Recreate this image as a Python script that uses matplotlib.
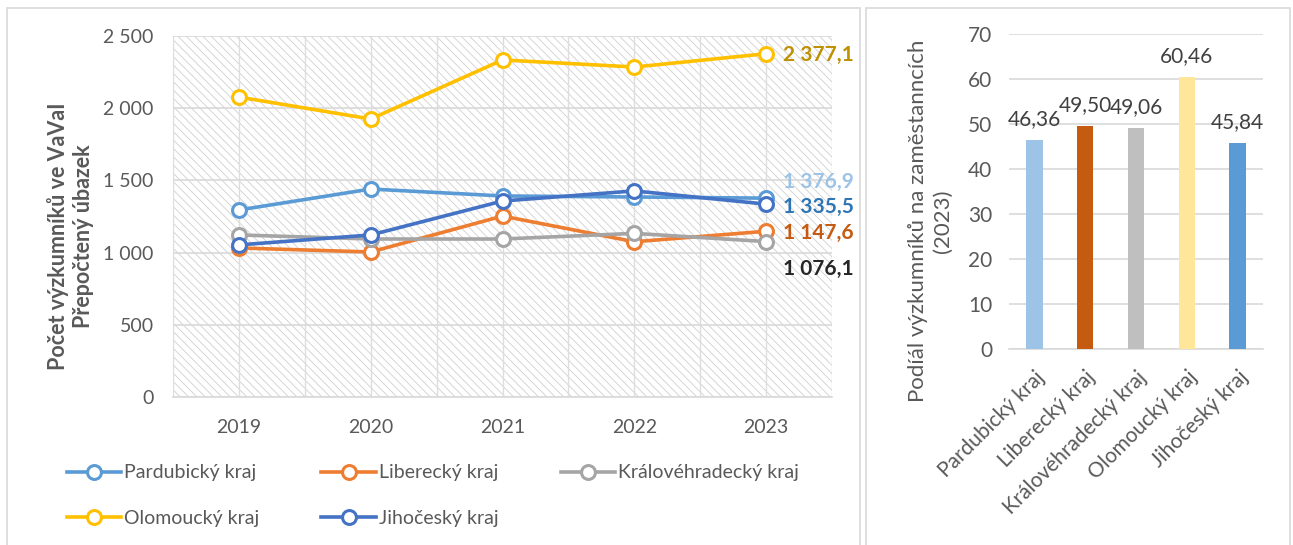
import numpy as np
import matplotlib.pyplot as plt
from matplotlib.patches import Rectangle
from matplotlib.ticker import FuncFormatter

plt.rcParams['font.family'] = ['Lato', 'DejaVu Sans']
plt.rcParams['hatch.linewidth'] = 0.6

# data
roky = ['2019', '2020', '2021', '2022', '2023']
kraje = ['Pardubický kraj', 'Liberecký kraj', 'Královéhradecký kraj',
         'Olomoucký kraj', 'Jihočeský kraj']
pardubicky = [1295, 1440, 1392, 1385, 1376.9]
liberecky = [1032, 1004, 1253, 1075, 1147.6]
kralovehradecky = [1122, 1094, 1094, 1133, 1076.1]
olomoucky = [2077, 1925, 2334, 2285, 2377.1]
jihocesky = [1053, 1122, 1357, 1427, 1335.5]
podil_2023 = [46.36, 49.50, 49.06, 60.46, 45.84]

barvy_car = ['#5B9BD5', '#ED7D31', '#A5A5A5', '#FFC000', '#4472C4']
barvy_popisku = ['#9DC3E6', '#C55A11', '#262626', '#BF9000', '#2E75B6']
# posun popisku posledni hodnoty (body)
posuny = [(12, 12), (12, -1), (12, -20), (12, -1), (12, -2)]
barvy_sloupcu = ['#9DC3E6', '#C55A11', '#BFBFBF', '#FFE699', '#5B9BD5']

seda = '#595959'

fig = plt.figure(figsize=(12.93, 5.45), dpi=100)

# ramecky panelu
fig.patches.append(Rectangle((0.0054, -0.01), 0.6596, 0.995, transform=fig.transFigure,
                             facecolor='none', edgecolor='#D9D9D9', lw=1.2))
fig.patches.append(Rectangle((0.6698, -0.01), 0.3279, 0.995, transform=fig.transFigure,
                             facecolor='none', edgecolor='#D9D9D9', lw=1.2))

# ---- levy graf ----
ax = fig.add_axes([0.1338, 0.2716, 0.5097, 0.6624])
ax.set_facecolor('white')
ax.add_patch(Rectangle((0, 0), 1, 1, transform=ax.transAxes, facecolor='white',
                       edgecolor='#CFCFCF', hatch='\\\\\\\\', lw=0, zorder=0))
x = np.arange(len(roky))
rady = [pardubicky, liberecky, kralovehradecky, olomoucky, jihocesky]
cary = []
for i, (nazev, hodnoty) in enumerate(zip(kraje, rady)):
    c, = ax.plot(x, hodnoty, color=barvy_car[i], lw=2.6, marker='o', ms=10,
                 mfc='white', mec=barvy_car[i], mew=2.2, label=nazev, zorder=3 + i)
    cary.append(c)
    posl = hodnoty[-1]
    txt = f'{posl:,.1f}'.replace(',', ' ').replace('.', ',')
    ax.annotate(txt, (x[-1], posl), xytext=posuny[i], textcoords='offset points',
                ha='left', va='center', fontsize=15, fontweight='bold',
                color=barvy_popisku[i], zorder=10, annotation_clip=False)

ax.set_xlim(-0.5, 4.5)
ax.set_ylim(0, 2500)
ax.set_yticks(np.arange(0, 2501, 500))
ax.yaxis.set_major_formatter(FuncFormatter(lambda v, p: f'{int(v):,}'.replace(',', ' ')))
ax.set_xticks(x)
ax.set_xticklabels(roky)
ax.set_xticks(np.arange(-0.5, 4.6, 1), minor=True)
ax.grid(axis='y', color='#D9D9D9', lw=1.2, zorder=1)
ax.grid(axis='x', which='both', color='#DDDDDD', lw=1.0, zorder=1)
ax.tick_params(axis='both', which='both', length=0, colors=seda, labelsize=14)
ax.tick_params(axis='y', pad=14)
ax.tick_params(axis='x', pad=16)
for s in ['top', 'right', 'left']:
    ax.spines[s].set_visible(False)
ax.spines['bottom'].set_color('#D9D9D9')
ax.spines['bottom'].set_linewidth(1.2)
ax.set_ylabel('Počet výzkumníků ve VaVaI\nPřepočtený úbazek', fontsize=15.5,
              fontweight='bold', color=seda, linespacing=1.25)
ax.yaxis.set_label_coords(-0.12, 0.445)

# legenda po radcich: P, L, K / O, J
poradi = [0, 3, 1, 4, 2]
fig.legend([cary[k] for k in poradi], [kraje[k] for k in poradi],
           loc='upper left', bbox_to_anchor=(0.038, 0.18), ncol=3, frameon=False,
           fontsize=14, handlelength=2.8, handletextpad=0.15, columnspacing=3.2,
           labelspacing=1.45, numpoints=1, labelcolor=seda,
           bbox_transform=fig.transFigure)

# ---- pravy graf ----
bx = fig.add_axes([0.7804, 0.3596, 0.1964, 0.578])
xb = np.arange(len(kraje))
bx.bar(xb, podil_2023, width=0.32, color=barvy_sloupcu, zorder=3)
for xi, v in zip(xb, podil_2023):
    bx.annotate(f'{v:.2f}'.replace('.', ','), (xi, v), xytext=(0, 15),
                textcoords='offset points', ha='center', va='center',
                fontsize=15, color='#404040')
bx.set_xlim(-0.5, 4.5)
bx.set_ylim(0, 70)
bx.set_yticks(np.arange(0, 71, 10))
bx.set_xticks(xb)
bx.set_xticklabels(kraje, rotation=45, ha='right', rotation_mode='anchor')
bx.grid(axis='y', color='#D9D9D9', lw=1.2, zorder=0)
bx.tick_params(axis='both', length=0, colors=seda, labelsize=15)
bx.tick_params(axis='y', pad=12)
bx.tick_params(axis='x', pad=13)
for s in ['top', 'right', 'left']:
    bx.spines[s].set_visible(False)
bx.spines['bottom'].set_color('#D9D9D9')
bx.spines['bottom'].set_linewidth(1.2)
bx.set_ylabel('Podíál výzkumníků na zaměstanncích\n(2023)', fontsize=16,
              color=seda, linespacing=1.3)
bx.yaxis.set_label_coords(-0.22, 0.406)

fig.savefig('out.png', dpi=100)
